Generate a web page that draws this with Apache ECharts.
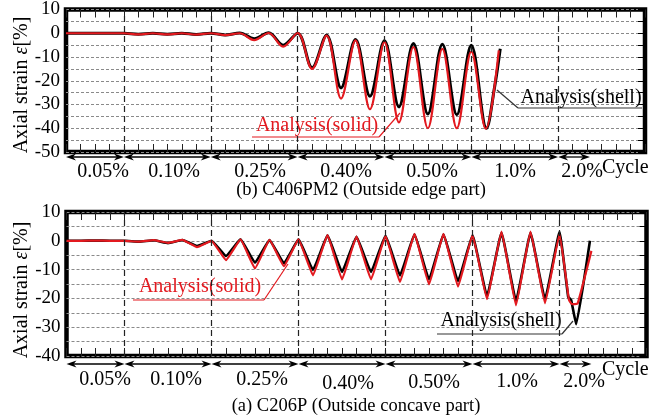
<!DOCTYPE html>
<html><head><meta charset="utf-8">
<script src="https://cdn.jsdelivr.net/npm/echarts@6/dist/echarts.min.js"></script>
<style>html,body{margin:0;padding:0;background:#fff}#c{width:664px;height:418px}</style>
</head><body><div id="c"></div>
<script>
// ---------- DATA ----------
const cycleBounds = [0, 4, 10, 16, 22, 28, 34, 36.2];
const ampLabels = ['0.05%', '0.10%', '0.25%', '0.40%', '0.50%', '1.0%', '2.0%'];
const topYLabels = [10, 0, -10, -20, -30, -40, -50];
const botYLabels = [10, 0, -10, -20, -30, -40];

// (b) C406PM2 (Outside edge part)
const topShellX = [0,4,5,6,7,8,9,10,11,12,13,14,15,16,17,18,19,20,21,22,23,24,25,26,27,28,29.05,29.6,30];
const topShellY = [0,0,-0.4,0,-0.4,0,-0.5,0,-0.7,0.1,-2.3,0.2,-5,0,-14.5,-0.8,-23,-2.6,-26.5,-3.2,-31,-4.3,-34,-4.6,-34.3,-5,-40,-23,-6.5];
const topSolidX = [0,4,5,6,7,8,9,10,11,12,13,14,15,16,17,18,19,20,21,22,23,24,25,26,27,28,29,29.9];
const topSolidY = [0,0,-0.5,0,-0.5,0,-0.6,0,-0.8,0,-2.9,0.1,-5.6,0.1,-15,-1,-27.5,-3,-32,-3.7,-37.5,-5.8,-40,-6.6,-40,-7.7,-40.2,-7.2];

// (a) C206P (Outside concave part)
const botShellX = [0,1,2,3,4,5,6,7,8,9,10,11,12,13,14,15,16,17,18,19,20,21,22,23,24,25,26,27,28,29,30,31,32,33,34,34.6,34.8,35.15,36.1];
const botShellY = [0,0,0.1,0,0,-0.3,0.2,-0.8,0.3,-1.8,0,-5.3,0.5,-7.6,0.3,-7.8,0.5,-10.1,1.9,-10.8,1.4,-10.8,1.7,-12,2.3,-13.4,2.3,-14,1.9,-19.2,2.8,-20.9,2.8,-20.3,3.1,-19.5,-20.5,-29,0];
const botSolidX = [0,1,2,3,4,5,6,7,8,9,10,11,12,13,14,15,16,17,18,19,20,21,22,23,24,25,26,27,28,29,30,31,32,33,34,34.65,34.85,35.25,36.2];
const botSolidY = [0,0,0.1,0,0,-0.3,0.2,-0.7,0.3,-2.2,0,-6.7,0.5,-9.6,0.3,-8.8,0.5,-12,2,-13.4,1.5,-13.4,1.7,-14.3,2.4,-15.1,2.4,-15.9,2,-20.3,3.2,-22.4,3.2,-21.7,2.3,-20.5,-22,-21.8,-3.5];

// ---------- STYLE / LAYOUT ----------
const FONT = '"Liberation Serif","Times New Roman",serif';
const RED = '#e3191f';
const grids = [
  {left: 66, top: 7, width: 579, height: 145},
  {left: 66.5, top: 212, width: 580, height: 144}
];

const chart = echarts.init(document.getElementById('c'), null, {renderer: 'canvas'});

function xAxes(gi) {
  const base = {gridIndex: gi, type: 'value', min: 0, max: 40, interval: 1,
    axisLine: {show: false, onZero: false}, axisLabel: {show: false}, splitLine: {show: false},
    axisTick: {show: true, inside: true, length: 8, lineStyle: {color: '#222', width: 1}}};
  return [Object.assign({position: 'bottom'}, base), Object.assign({position: 'top'}, base)];
}
function yAxes(gi, min, max, labels) {
  return [
    {gridIndex: gi, type: 'value', min: min, max: max, interval: 5, position: 'left',
      axisLine: {show: false, onZero: false}, axisTick: {show: false},
      axisLabel: {margin: 6, color: '#000', fontFamily: FONT, fontSize: 19,
        formatter: v => labels.includes(v) ? String(v) : ''},
      splitLine: {show: true, lineStyle: {color: '#8a8a8a', type: [3, 2], width: 1}}},
    {gridIndex: gi, type: 'value', min: min, max: max, interval: 5, position: 'right',
      axisLine: {show: false, onZero: false}, axisLabel: {show: false}, splitLine: {show: false},
      axisTick: {show: true, inside: true, length: 7, lineStyle: {color: '#000', width: 1}}}
  ];
}
function line(gi, xs, ys, color, width, extra, withMark) {
  const s = Object.assign({
    type: 'line', xAxisIndex: gi * 2, yAxisIndex: gi * 2,
    data: xs.map((x, i) => [x, ys[i]]), symbol: 'none', showSymbol: false,
    lineStyle: {color: color, width: width}, animation: false, z: 3
  }, extra);
  if (withMark) {
    s.markLine = {silent: true, symbol: 'none', label: {show: false}, animation: false,
      lineStyle: {color: '#222', type: [6, 4], width: 1.2},
      data: cycleBounds.slice(1, 7).map(b => ({xAxis: b}))};
  }
  return s;
}
const topSmooth = {smooth: 0.35};
const option = {
  animation: false,
  backgroundColor: '#fff',
  grid: grids.map(g => Object.assign({show: true, borderColor: '#000', borderWidth: 4.5, backgroundColor: 'transparent'}, g)),
  xAxis: [].concat(xAxes(0), xAxes(1)),
  yAxis: [].concat(yAxes(0, -50, 10, topYLabels), yAxes(1, -40, 10, botYLabels)),
  series: [
    line(0, topShellX, topShellY, '#000', 3, topSmooth, true),
    line(0, topSolidX, topSolidY, RED, 2.2, topSmooth, false),
    line(1, botShellX, botShellY, '#000', 2.6, {smooth: 0.1}, true),
    line(1, botSolidX, botSolidY, RED, 2.2, {smooth: 0.1}, false)
  ]
};
chart.setOption(option);

// ---------- ANNOTATIONS ----------
const g = [];
function txt(x, y, s, size, color, align, extra) {
  g.push(Object.assign({type: 'text', x: x, y: y, silent: true,
    style: {text: s, fill: color, fontSize: size, fontFamily: FONT, align: align || 'center', verticalAlign: 'middle'}}, extra || {}));
}
function seg(x1, y1, x2, y2, color, w) {
  g.push({type: 'line', silent: true, shape: {x1: x1, y1: y1, x2: x2, y2: y2}, style: {stroke: color, lineWidth: w}});
}
function arrowRow(gi, y) {
  for (let i = 0; i < cycleBounds.length - 1; i++) {
    const x0 = chart.convertToPixel({gridIndex: gi}, [cycleBounds[i], 0])[0];
    const x1 = chart.convertToPixel({gridIndex: gi}, [cycleBounds[i + 1], 0])[0];
    seg(x0 + 3, y, x1 - 3, y, '#000', 1.3);
    g.push({type: 'polygon', silent: true, shape: {points: [[x0, y], [x0 + 10, y - 3.5], [x0 + 7, y], [x0 + 10, y + 3.5]]}, style: {fill: '#000'}});
    g.push({type: 'polygon', silent: true, shape: {points: [[x1, y], [x1 - 10, y - 3.5], [x1 - 7, y], [x1 - 10, y + 3.5]]}, style: {fill: '#000'}});
  }
}
arrowRow(0, 157);
arrowRow(1, 364);
const labelX = [103, 174, 260, 346, 432, 515, 582];
const topLabelY = [172, 172, 172, 172, 172, 172, 172];
const botLabelY = [380, 380, 380, 384, 383, 382, 382];
ampLabels.forEach((s, i) => {
  txt(labelX[i], topLabelY[i], s, 20, '#000');
  txt(labelX[i] + 2, botLabelY[i], s, 20, '#000');
});
txt(602, 168, 'Cycle', 20, '#000', 'left');
txt(602, 370, 'Cycle', 20, '#000', 'left');
txt(361, 190, '(b) C406PM2 (Outside edge part)', 18.5, '#000');
txt(356, 406, '(a) C206P (Outside concave part)', 18.5, '#000');

function yTitle(cy) {
  g.push({type: 'text', x: 22, y: cy, rotation: Math.PI / 2, silent: true,
    style: {text: '{a|Axial strain }{e|ε}{a|[%]}', align: 'center', verticalAlign: 'middle',
      rich: {a: {fontSize: 20, fontFamily: FONT, fill: '#000'}, e: {fontSize: 20, fontFamily: FONT, fontStyle: 'italic', fill: '#000'}}}});
}
yTitle(85);
yTitle(290);

// top annotations
txt(581, 98, 'Analysis(shell)', 20, '#000');
seg(518, 108, 642, 108, '#333', 1.2);
seg(518, 108, 497, 90, '#333', 1.2);
txt(317, 126, 'Analysis(solid)', 20, RED);
seg(252, 137, 379, 137, RED, 1.2);
seg(379, 137, 400, 113, RED, 1.2);
// bottom annotations
txt(501, 321, 'Analysis(shell)', 20, '#000');
seg(437, 334, 562, 334, '#333', 1.2);
seg(562, 334, 573, 321, '#333', 1.2);
txt(200, 287, 'Analysis(solid)', 20, RED);
seg(133, 300, 264, 300, RED, 1.2);
seg(264, 300, 288, 264, RED, 1.2);

chart.setOption({graphic: {elements: g}});
</script>
</body></html>
